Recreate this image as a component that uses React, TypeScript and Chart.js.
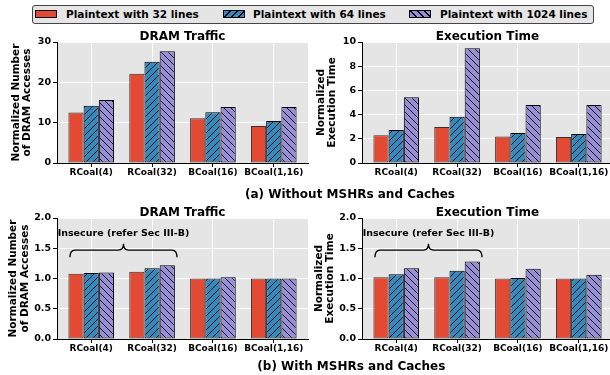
import React, { useEffect, useRef } from 'react';
import { Chart, registerables } from 'chart.js';

Chart.register(...registerables);
Chart.defaults.font.family = "'DejaVu Sans', sans-serif";

// ---------------- data ----------------
const CATEGORIES = ['RCoal(4)', 'RCoal(32)', 'BCoal(16)', 'BCoal(1,16)'];
const SERIES_NAMES = ['Plaintext with 32 lines', 'Plaintext with 64 lines', 'Plaintext with 1024 lines'];

// (a) Without MSHRs and Caches
const TRAFFIC_A_32 = [12.5, 22.1, 11.1, 9.2];
const TRAFFIC_A_64 = [14.2, 25.1, 12.6, 10.4];
const TRAFFIC_A_1024 = [15.6, 27.7, 13.9, 13.9];
const TIME_A_32 = [2.3, 2.98, 2.2, 2.15];
const TIME_A_64 = [2.73, 3.83, 2.48, 2.4];
const TIME_A_1024 = [5.43, 9.48, 4.79, 4.79];

// (b) With MSHRs and Caches
const TRAFFIC_B_32 = [1.08, 1.11, 1.0, 1.0];
const TRAFFIC_B_64 = [1.09, 1.17, 1.0, 1.0];
const TRAFFIC_B_1024 = [1.1, 1.22, 1.02, 1.0];
const TIME_B_32 = [1.02, 1.02, 1.0, 1.0];
const TIME_B_64 = [1.07, 1.13, 1.01, 1.0];
const TIME_B_1024 = [1.17, 1.28, 1.16, 1.06];

// axis ranges
const X_MIN = -0.5625;
const X_MAX = 3.5625;
const TRAFFIC_A_MAX = 30;
const TRAFFIC_A_STEP = 10;
const TIME_A_MAX = 10;
const TIME_A_STEP = 2;
const B_MAX = 2;
const B_STEP = 0.5;

// brace annotation (data units)
const BRACE_LABEL = 'Insecure (refer Sec III-B)';
const BRACE_X = [-0.35, 1.41];
const BRACE_Y = 1.47;
const BRACE_END_Y = 1.35;
const BRACE_TIP_Y = 1.575;
const BRACE_LABEL_Y = 1.745;

// ---------------- styles ----------------
const FONT = "'DejaVu Sans', sans-serif";
const RED = '#E24A33';
const BLUE = '#348ABD';
const PURPLE = '#988ED5';
const PLOT_BG = '#E5E5E5';

function makeHatch(color: string, dir: 'fwd' | 'back', size = 7) {
  const c = document.createElement('canvas');
  c.width = size;
  c.height = size;
  const g = c.getContext('2d')!;
  g.fillStyle = color;
  g.fillRect(0, 0, size, size);
  g.strokeStyle = '#000';
  g.lineWidth = 0.9;
  g.beginPath();
  if (dir === 'fwd') {
    g.moveTo(-1, size + 1); g.lineTo(size + 1, -1);
    g.moveTo(-1, 1); g.lineTo(1, -1);
    g.moveTo(size - 1, size + 1); g.lineTo(size + 1, size - 1);
  } else {
    g.moveTo(-1, -1); g.lineTo(size + 1, size + 1);
    g.moveTo(size - 1, -1); g.lineTo(size + 1, 1);
    g.moveTo(-1, size - 1); g.lineTo(1, size + 1);
  }
  g.stroke();
  return g.createPattern(c, 'repeat');
}

const bgPlugin = {
  id: 'plotBg',
  beforeDraw(chart: any) {
    const { ctx, chartArea: a } = chart;
    ctx.save();
    ctx.fillStyle = PLOT_BG;
    ctx.fillRect(a.left, a.top, a.right - a.left, a.bottom - a.top);
    ctx.restore();
  },
};

const bracePlugin = {
  id: 'brace',
  afterDatasetsDraw(chart: any) {
    const { ctx, scales } = chart;
    const x0 = scales.x.getPixelForValue(BRACE_X[0]);
    const x1 = scales.x.getPixelForValue(BRACE_X[1]);
    const xm = (x0 + x1) / 2;
    const yb = scales.y.getPixelForValue(BRACE_Y);
    const ye = scales.y.getPixelForValue(BRACE_END_Y);
    const yt = scales.y.getPixelForValue(BRACE_TIP_Y);
    const yl = scales.y.getPixelForValue(BRACE_LABEL_Y);
    const r = 5;
    ctx.save();
    ctx.strokeStyle = '#000';
    ctx.lineWidth = 1.3;
    ctx.beginPath();
    ctx.moveTo(x0, ye);
    ctx.quadraticCurveTo(x0, yb, x0 + r, yb);
    ctx.lineTo(xm - r, yb);
    ctx.quadraticCurveTo(xm, yb, xm, yt);
    ctx.quadraticCurveTo(xm, yb, xm + r, yb);
    ctx.lineTo(x1 - r, yb);
    ctx.quadraticCurveTo(x1, yb, x1, ye);
    ctx.stroke();
    ctx.fillStyle = '#000';
    ctx.font = `bold 9.5px ${FONT}`;
    ctx.textAlign = 'center';
    ctx.textBaseline = 'middle';
    ctx.fillText(BRACE_LABEL, xm, yl);
    ctx.restore();
  },
};

type PanelCfg = {
  left: number;
  top: number;
  width: number;
  height: number;
  padTop: number;
  padRight: number;
  yAxisW: number;
  xAxisH: number;
  series: number[][];
  yMax: number;
  yStep: number;
  yDecimals: number;
  yTitle: string[];
  yTitlePad: number;
  brace: boolean;
};

const PANELS: PanelCfg[] = [
  {
    left: 0, top: 24, width: 310, height: 166, padTop: 18, padRight: 2, yAxisW: 57, xAxisH: 27,
    series: [TRAFFIC_A_32, TRAFFIC_A_64, TRAFFIC_A_1024], yMax: TRAFFIC_A_MAX, yStep: TRAFFIC_A_STEP, yDecimals: 0,
    yTitle: ['Normalized Number', 'of DRAM Accesses'], yTitlePad: 10.4, brace: false,
  },
  {
    left: 310, top: 24, width: 305, height: 166, padTop: 18, padRight: 2, yAxisW: 52, xAxisH: 27,
    series: [TIME_A_32, TIME_A_64, TIME_A_1024], yMax: TIME_A_MAX, yStep: TIME_A_STEP, yDecimals: 0,
    yTitle: ['Normalized', 'Execution Time'], yTitlePad: 5.6, brace: false,
  },
  {
    left: 0, top: 200, width: 310, height: 166, padTop: 18, padRight: 2, yAxisW: 57, xAxisH: 27,
    series: [TRAFFIC_B_32, TRAFFIC_B_64, TRAFFIC_B_1024], yMax: B_MAX, yStep: B_STEP, yDecimals: 1,
    yTitle: ['Normalized Number', 'of DRAM Accesses'], yTitlePad: 8.1, brace: true,
  },
  {
    left: 310, top: 200, width: 305, height: 166, padTop: 18, padRight: 2, yAxisW: 52, xAxisH: 27,
    series: [TIME_B_32, TIME_B_64, TIME_B_1024], yMax: B_MAX, yStep: B_STEP, yDecimals: 1,
    yTitle: ['Normalized', 'Execution Time'], yTitlePad: 3.6, brace: true,
  },
];

function Panel({ cfg }: { cfg: PanelCfg }) {
  const ref = useRef<HTMLCanvasElement>(null);
  useEffect(() => {
    const fills = [RED, makeHatch(BLUE, 'fwd'), makeHatch(PURPLE, 'back')];
    const edges = ['#333', '#000', '#000'];
    const tickFont = { family: FONT, size: 9.5, weight: 'bold' as const };
    const chart = new Chart(ref.current!, {
      type: 'bar',
      data: {
        datasets: SERIES_NAMES.map((name, s) => ({
          label: name,
          data: cfg.series[s].map((v, i) => ({ x: i, y: v })),
          backgroundColor: fills[s] as any,
          borderColor: edges[s],
          borderWidth: 1,
          borderSkipped: false,
          categoryPercentage: 0.75,
          barPercentage: 1,
        })),
      },
      options: {
        animation: false,
        responsive: false,
        events: [],
        layout: { padding: { top: cfg.padTop, right: cfg.padRight, left: 0, bottom: 0 } },
        plugins: { legend: { display: false }, tooltip: { enabled: false }, title: { display: false } },
        scales: {
          x: {
            type: 'linear',
            min: X_MIN,
            max: X_MAX,
            offset: false,
            afterBuildTicks: (s: any) => {
              s.ticks = CATEGORIES.map((_, i) => ({ value: i }));
            },
            afterFit: (s: any) => {
              s.height = cfg.xAxisH;
            },
            ticks: {
              callback: (v: any) => CATEGORIES[Number(v)],
              font: { family: FONT, size: 9, weight: 'bold' },
              color: '#000',
              padding: 0,
              maxRotation: 0,
              autoSkip: false,
            },
            grid: { color: '#fff', lineWidth: 1, tickColor: '#000', tickLength: 4, offset: false },
            border: { color: '#000', width: 1 },
          },
          y: {
            type: 'linear',
            min: 0,
            max: cfg.yMax,
            afterFit: (s: any) => {
              s.width = cfg.yAxisW;
            },
            ticks: {
              stepSize: cfg.yStep,
              callback: (v: any) => Number(v).toFixed(cfg.yDecimals),
              font: tickFont,
              color: '#000',
              padding: 2,
            },
            grid: { color: '#fff', lineWidth: 1, tickColor: '#000', tickLength: 4 },
            border: { color: '#000', width: 1 },
            title: {
              display: true,
              text: cfg.yTitle,
              font: { family: FONT, size: 10.5, weight: 'bold', lineHeight: 1.07 },
              color: '#000',
              padding: { top: cfg.yTitlePad, bottom: 0 },
            },
          },
        },
      },
      plugins: cfg.brace ? [bgPlugin, bracePlugin] : [bgPlugin],
    } as any);
    return () => chart.destroy();
  }, [cfg]);
  return (
    <canvas
      ref={ref}
      width={cfg.width}
      height={cfg.height}
      style={{ position: 'absolute', left: cfg.left, top: cfg.top, width: cfg.width, height: cfg.height }}
    />
  );
}

const textBase: React.CSSProperties = {
  position: 'absolute',
  fontFamily: FONT,
  fontWeight: 'bold',
  lineHeight: 1,
  whiteSpace: 'nowrap',
  color: '#000',
};

function Centered({ x, y, size, children }: { x: number; y: number; size: number; children: React.ReactNode }) {
  return (
    <div style={{ ...textBase, left: x, top: y, fontSize: size, transform: 'translate(-50%, -50%)' }}>{children}</div>
  );
}

const SWATCHES = [
  { bg: RED, x: 35, text: 66 },
  { bg: `repeating-linear-gradient(135deg, ${BLUE} 0px, ${BLUE} 4px, #000 4px, #000 5px)`, x: 223, text: 253 },
  { bg: `repeating-linear-gradient(45deg, ${PURPLE} 0px, ${PURPLE} 4px, #000 4px, #000 5px)`, x: 409, text: 440 },
];

export default function App() {
  return (
    <div style={{ position: 'absolute', left: 0, top: 0, width: 610, height: 375, overflow: 'hidden', background: '#fff' }}>
      {PANELS.map((p, i) => (
        <Panel key={i} cfg={p} />
      ))}
      <div
        style={{
          position: 'absolute',
          left: 32,
          top: 5,
          width: 562,
          height: 18.5,
          boxSizing: 'border-box',
          border: '1px solid #444',
          borderRadius: 3,
          background: '#E5E5E5',
        }}
      />
      {SWATCHES.map((s, i) => (
        <React.Fragment key={i}>
          <div
            style={{
              position: 'absolute',
              left: s.x,
              top: 10,
              width: 22,
              height: 8,
              boxSizing: 'border-box',
              border: '1px solid #000',
              background: s.bg,
            }}
          />
          <div style={{ ...textBase, left: s.text, top: 13.6, fontSize: 10.5, transform: 'translateY(-50%)' }}>
            {SERIES_NAMES[i]}
          </div>
        </React.Fragment>
      ))}
      <Centered x={182.5} y={35.5} size={12}>DRAM Traffic</Centered>
      <Centered x={487.5} y={35.5} size={12}>Execution Time</Centered>
      <Centered x={182.5} y={211.5} size={12}>DRAM Traffic</Centered>
      <Centered x={487.5} y={211.5} size={12}>Execution Time</Centered>
      <Centered x={350} y={193.5} size={12}>(a) Without MSHRs and Caches</Centered>
      <Centered x={351.3} y={365.8} size={12}>(b) With MSHRs and Caches</Centered>
    </div>
  );
}
